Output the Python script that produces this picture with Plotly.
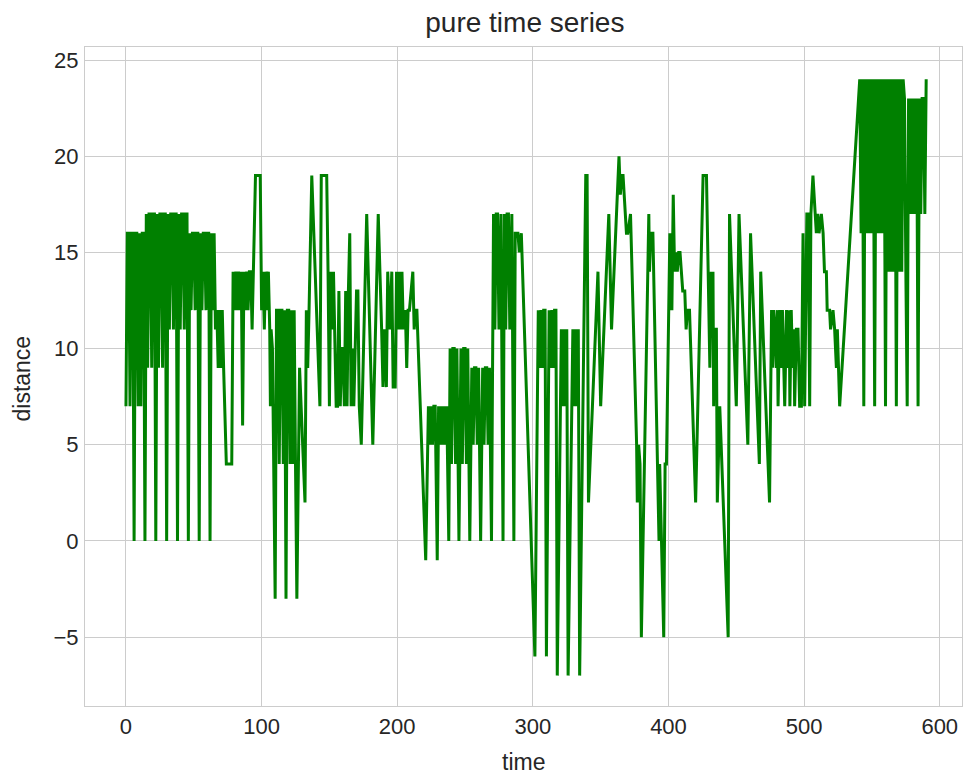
import plotly.graph_objects as go

# (time, distance) vertices, segment by segment
seg_a = [(0,7),(1,16),(2,16),(3,7),(4,16),(5,16),(6,0),
         (7,16),(8,16),(9,7),(10,16),(11,7),(12,16),(13,16),(14,0),
         (15,17),(16,9),(17,17),(18,17),(19,9),(20,17),(21,17),(22,0),
         (23,17),(24,9),(25,17),(26,17),(27,9),(28,17),(29,17),(30,0),
         (31,17),(32,11),(33,17),(34,17),(35,11),(36,17),(37,17),(38,0),
         (39,17),(40,11),(41,17),(42,17),(43,11),(44,17),(45,17),(46,0),
         (47,16),(48,12),(49,16),(50,16),(51,12),(52,16),(53,16),(54,0),
         (55,16),(56,12),(57,16),(58,16),(59,12),(60,16),(61,16),(62,0),
         (63,16),(64,12),(65,16),(66,11)]

seg_b = [(67,12),(68,9),(69,12),(70,9),(71,12),(72,9),(73,7),(74,4),(76,4),(78,4),
         (79,14),(80,12),(81,14),(82,12),(83,14),(84,12),(85,14),(86,6),
         (87,14),(88,12),(89,14),(90,12),(91,14),(92,14),(93,11),
         (95.5,19),(99,19),(100,12),
         (101,14),(102,11),(103,14),(104,12),(105,14),(106,11),(106.5,7),(107,11),(108,10),
         (110,-3),(111,12),(112,12),(113,4),(114,12),(115,12),(116,4),(117,12),(118,-3),
         (119,12),(120,12),(121,4),(122,12),(123,4),(124,12),(125,4),(126,-3),
         (128,9),(129,7),(132,2),(133,12),(134,9),(135,12),(137,19),(143,7)]

seg_c = [(144,19),(145,19),(148,19),(149,14),(149.6,11),(150,7),(151,14),(152,11),(153,14),
         (154,11),(155,7),(156,7),(157,13),(158,7),(159,10),(160,10),(161,7),(162,13),(163,7),
         (164,13),(165,16),(166,7),(167,10),(168,7),(169,10),(170,13),(171,13),(172,7),
         (173.5,5),(177.5,17),(182,5),(186,17),(188.5,11),(189.5,8),(190.5,11),(192,8),
         (193,14),(194.5,11),(196,14),(197,8),(198.5,8),(199.5,14),(200.5,11),(201.5,14),
         (202.5,11),(203.5,14),(204.5,11),(206,12),(207,9),(208,12),(209,12),(211.5,14),
         (212.5,11),(213.5,12),(214.5,12),(221,-1)]

seg_d = [(223,7),(224,5),(225,7),(226,5),(227,7),(228,7),(229.5,-1),(230.5,7),(231.5,5),
         (232.5,7),(233.5,5),(234.5,7),(235.5,5),(236.5,7),(238,0),
         (239,10),(240,4),(241,10),(242,10),(243,4),(244,10),(245.5,0),
         (247,10),(248,4),(249,10),(250,10),(251,4),(252,10),(253.5,0),
         (255,9),(256,5),(257,9),(258,9),(259,5),(260,9),(261.5,0),
         (263,9),(264,5),(265,9),(266,9),(267,5),(268,9),(269.5,0),
         (271,17),(272,11),(273,17),(274,17),(275,11),(276.5,17),(278,0),
         (279,17),(280,11),(281,17),(282,17),(283,11),(284.5,17),(286,0),
         (287,16),(289,16),(290,15),(291.5,16),(301.5,-6)]

seg_e = [(304,12),(305,9),(306,12),(307,9),(308,12),(309,12),(310,-6),
         (312,12),(313,9),(314,12),(315,9),(316,12),(317,12),(318,-7),
         (321,11),(322,7),(323,11),(324,7),(325,11),(326,-7),
         (329.5,11),(330.5,7),(331.5,11),(332.5,7),(333.5,11),(334.5,-7),
         (339,19),(340,19),(341,2),(348,14),(350,7),(356,17),(358,11),(363.5,20),
         (364.5,18),(365.5,19),(366.5,19),(367.5,18),(369,16),(370,16),(371.5,17),
         (372,17),(376.5,5),(377,2),(378,5),(379,4)]

seg_f = [(380,-5),(385.5,17),(386,14),(387,16),(388.5,16),(392,4),(393,0),(393.5,4),
         (396.5,-5),(397.5,4),(398.5,4),(401,16),(401.5,12),(402,16),(402.5,12),(403.5,18),
         (404.5,14),(405.5,15),(406.5,14),(407.5,15),(408.5,15),(409.5,14),(410.5,13),
         (412,13),(413,11),(414,12),(415.5,12),(420,2),(425.5,19),(428,19),(430.5,9),
         (431.5,14),(432,11),(432.8,14),(433.3,7),(434,11),(435.3,11),(436,2),(437.8,7),
         (444,-5),(445,17),(450,7),(452,17)]

seg_g = [(458.5,5),(460.5,16),(467,4),(468,14),(474.5,2),(476,12),(476.8,9),(477.5,12),
         (478.5,11),(479.5,9),(480.2,12),(480.8,7),(482,12),(483,9),(484,12),(485,9),
         (485.7,7),(487,12),(488,9),(489,12),(489.5,7),(490.5,12),(491.5,9),(492.5,11),
         (493,7),(494.3,11),(495.5,11),(496.7,7),(498,7),(499.2,16),(500.4,7),(502,17),
         (503,17),(504.1,7),(505,17),(506.5,19),(507.8,17),(509,16),(510,17),(511,16),
         (512.7,17),(514,16),(515,14),(516.4,14),(517,12),(518.8,12),(519.5,11),
         (521.3,12),(522.5,11),(523.8,9),(524.5,11),(526.2,7)]

seg_h = [(541,24),(542,16),(543,24),(544,7),
         (545,24),(546,16),(547,24),(548,16),(549,24),(550,16),(551,24),(552,7),
         (553,24),(554,16),(555,24),(556,16),(557,24),(558,16),(559,24),(560,7),
         (561,24),(562,14),(563,24),(564,14),(565,24),(566,14),(567,24),(568,7),
         (569,24),(570,14),(571,24),(572,14),(573,24),(574,23),(575,14),(576,7),
         (577,23),(578,17),(579,23),(580,17),(581,23),(582,17),(583,23),(584,7),
         (585,23),(586,17),(587,23),(588,23),(589,17),(590,24)]

segments = [seg_a, seg_b, seg_c, seg_d, seg_e, seg_f, seg_g, seg_h]
time = [p[0] for s in segments for p in s]
distance = [p[1] for s in segments for p in s]

title_text = "pure time series"
x_label = "time"
y_label = "distance"

fig = go.Figure(go.Scatter(x=time, y=distance, mode="lines",
                           line=dict(color="green", width=3),
                           showlegend=False))

font_family = "Liberation Sans, Arial, sans-serif"
text_color = "#262626"
axis_common = dict(showgrid=True, gridcolor="#cccccc", gridwidth=1,
                   showline=True, linecolor="#cccccc", linewidth=1, mirror=True,
                   zeroline=False, ticks="",
                   tickfont=dict(family=font_family, size=22, color=text_color))

fig.update_layout(
    width=963, height=778,
    margin=dict(l=85, r=1, t=47, b=72),
    paper_bgcolor="white", plot_bgcolor="white",
    title=dict(text=title_text, x=0.545, xanchor="center", y=0.972, yanchor="middle",
               yref="container",
               font=dict(family=font_family, size=28, color=text_color)),
    xaxis=dict(range=[-30.2, 616.4], tick0=0, dtick=100, ticklabelstandoff=1,
               **axis_common),
    yaxis=dict(range=[-8.58, 25.68], tick0=0, dtick=5, ticklabelstandoff=1,
               **axis_common),
    annotations=[
        dict(text=x_label, xref="paper", yref="paper", x=0.5, y=-0.085,
             xanchor="center", yanchor="middle", showarrow=False,
             font=dict(family=font_family, size=23, color=text_color)),
        dict(text=y_label, xref="paper", yref="paper", x=-0.0718, y=0.497,
             xanchor="center", yanchor="middle", showarrow=False, textangle=-90,
             font=dict(family=font_family, size=23, color=text_color)),
    ],
)

fig.write_html("out.html")
